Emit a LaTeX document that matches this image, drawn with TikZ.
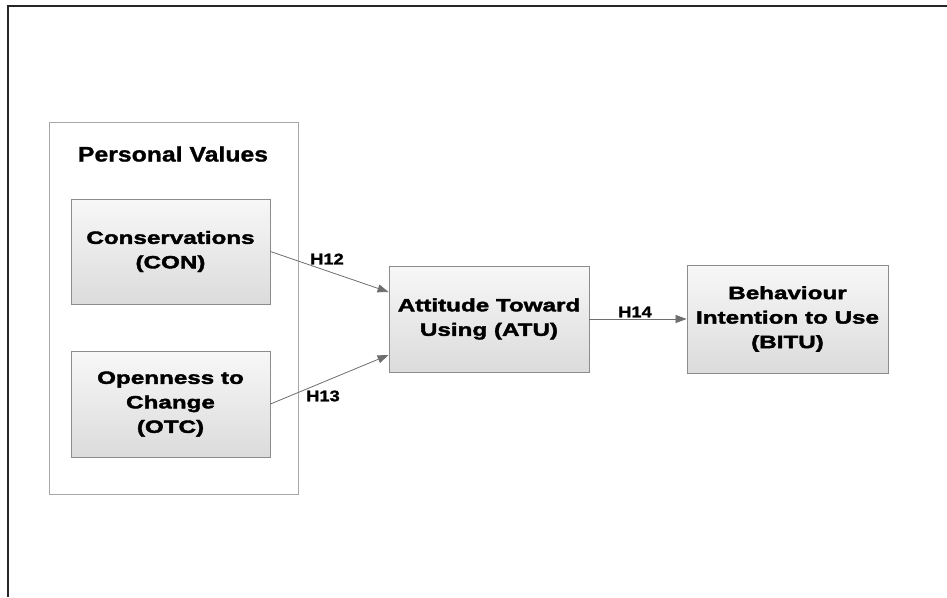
\documentclass[tikz,border=0pt]{standalone}
\usepackage{fontspec}
\setmainfont{Liberation Sans}
\newfontfamily\boxfont{Liberation Sans}[FakeStretch=1.36,FakeBold=2.2]
\newfontfamily\labfont{Liberation Sans}[FakeStretch=1.18,FakeBold=1.2]
\usetikzlibrary{shadings,arrows.meta}
\definecolor{boxedge}{HTML}{8C8C8C}
\definecolor{groupedge}{HTML}{A8A8A8}
\definecolor{arrowgray}{HTML}{6E6E6E}
\begin{document}
\begin{tikzpicture}[x=1pt,y=-1pt,
  construct/.style={rectangle, draw=boxedge, line width=0.9pt,
    top color=white!97!black, bottom color=white!86!black,
    align=center, inner sep=0pt,
    font=\boxfont\bfseries\fontsize{17.8}{24.5}\selectfont},
  link/.style={draw=arrowgray, line width=0.8pt,
    -{Triangle[length=11pt,width=8pt]}},
  hyp/.style={font=\labfont\bfseries\fontsize{15.5}{18}\selectfont, inner sep=0pt},
]
\useasboundingbox (0,0) rectangle (947,597);
\fill[white] (0,0) rectangle (947,597);

% page frame (top and left edges)
\draw[line width=1.6pt, black!85] (947,6) -- (8,6) -- (8,597);

% personal values group
\node[draw=groupedge, line width=0.9pt, minimum width=249pt, minimum height=372pt,
      inner sep=0pt] (pv) at (173.5,308) {};
\node[font=\labfont\bfseries\fontsize{21}{24}\selectfont, inner sep=0pt]
      (pvtitle) at (173,154) {Personal Values};

% constructs
\node[construct, minimum width=199pt, minimum height=105pt] (con) at (170.5,251.5)
  {Conservations\\(CON)};
\node[construct, minimum width=199pt, minimum height=106pt] (otc) at (170.5,404)
  {Openness to\\Change\\(OTC)};
\node[construct, minimum width=200pt, minimum height=106pt] (atu) at (489,319)
  {Attitude Toward\\Using (ATU)};
\node[construct, minimum width=201pt, minimum height=108pt] (bitu) at (787.5,319)
  {Behaviour\\Intention to Use\\(BITU)};

% hypothesised paths
\draw[link] (con.east) -- ([yshift=27pt]atu.west);
\draw[link] (otc.east) -- ([yshift=-36pt]atu.west);
\draw[link] (atu.east) -- (bitu.west);

\node[hyp] (h12) at (327,259) {H12};
\node[hyp] (h13) at (323,396) {H13};
\node[hyp] (h14) at (635,312) {H14};
\end{tikzpicture}
\end{document}
